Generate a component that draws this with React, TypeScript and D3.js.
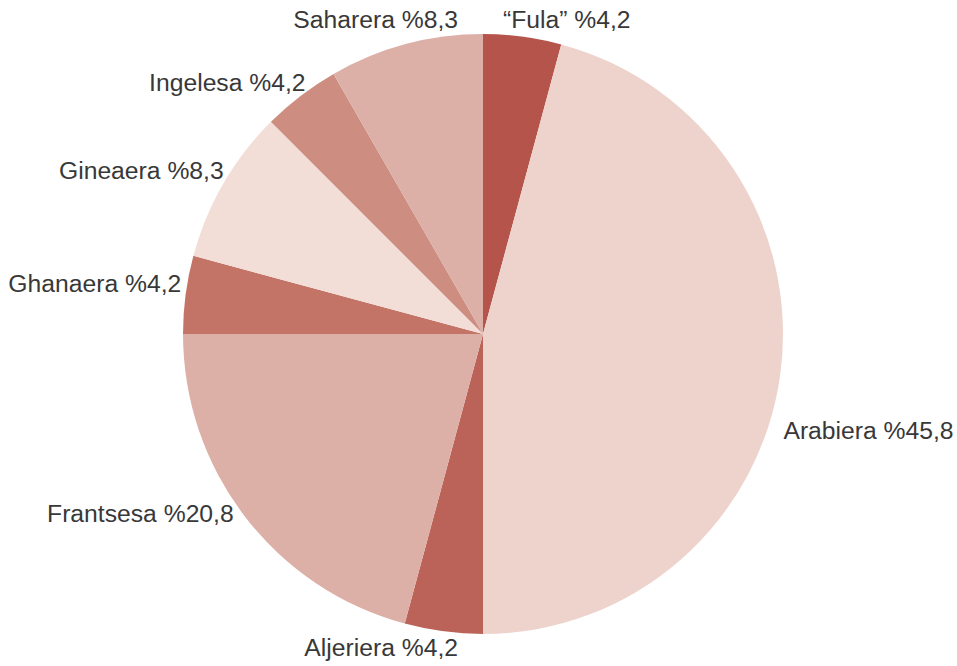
import React, { useRef, useEffect } from 'react';
import * as d3 from 'd3';

const categories = ['“Fula”', 'Arabiera', 'Aljeriera', 'Frantsesa', 'Ghanaera', 'Gineaera', 'Ingelesa', 'Saharera'];
const values = [4.2, 45.8, 4.2, 20.8, 4.2, 8.3, 4.2, 8.3];
const valueLabels = ['4,2', '45,8', '4,2', '20,8', '4,2', '8,3', '4,2', '8,3'];
const colors = ['#b4544b', '#edd3cc', '#bb6358', '#dcb0a6', '#c37467', '#f2ded7', '#cd8e81', '#dcb0a6'];

const W = 957;
const H = 666;

function PieChart() {
  const svgRef = useRef<SVGSVGElement | null>(null);

  useEffect(() => {
    const svg = d3.select(svgRef.current);
    svg.selectAll('*').remove();

    const cx = 483;
    const cy = 334;
    const radius = 300;

    const data = categories.map((c, i) => ({ name: c, value: values[i], label: valueLabels[i], color: colors[i] }));

    const pie = d3.pie<any>().value((d) => d.value).sort(null);
    const arc = d3.arc<any>().innerRadius(0).outerRadius(radius);

    const g = svg.append('g').attr('transform', `translate(${cx},${cy})`);

    const arcs = pie(data);

    g.selectAll('path')
      .data(arcs)
      .join('path')
      .attr('d', arc)
      .attr('fill', (d) => d.data.color);

    // label placement: just outside the rim, near-vertical labels hug the axis
    const labelR = 306;
    const angleTweak: Record<string, number> = { Arabiera: 8.5 };

    g.selectAll('text')
      .data(arcs)
      .join('text')
      .text((d) => `${d.data.name} %${d.data.label}`)
      .each(function (d) {
        const mid = (d.startAngle + d.endAngle) / 2;
        const a = mid + ((2 + (angleTweak[d.data.name] || 0)) * Math.PI) / 180;
        const s = Math.sin(a);
        const c = Math.cos(a);
        let x = (labelR + (s > 0.3 ? 10 : 0)) * s;
        let y = -(labelR + 3) * c;
        if (Math.abs(s) < 0.3) {
          x = s >= 0 ? 20 : -25;
          y = c > 0 ? -315 : 313;
        }
        d3.select(this)
          .attr('x', x)
          .attr('y', y)
          .attr('dy', '0.36em')
          .attr('text-anchor', s >= 0 ? 'start' : 'end');
      })
      .attr('font-family', '"Liberation Sans", Arial, sans-serif')
      .attr('font-size', 24.7)
      .attr('fill', '#383838');
  }, []);

  return (
    <svg
      ref={svgRef}
      width={W}
      height={H}
      style={{ position: 'absolute', left: 0, top: 0, background: '#ffffff' }}
    ></svg>
  );
}

export default function App() {
  return <PieChart />;
}
